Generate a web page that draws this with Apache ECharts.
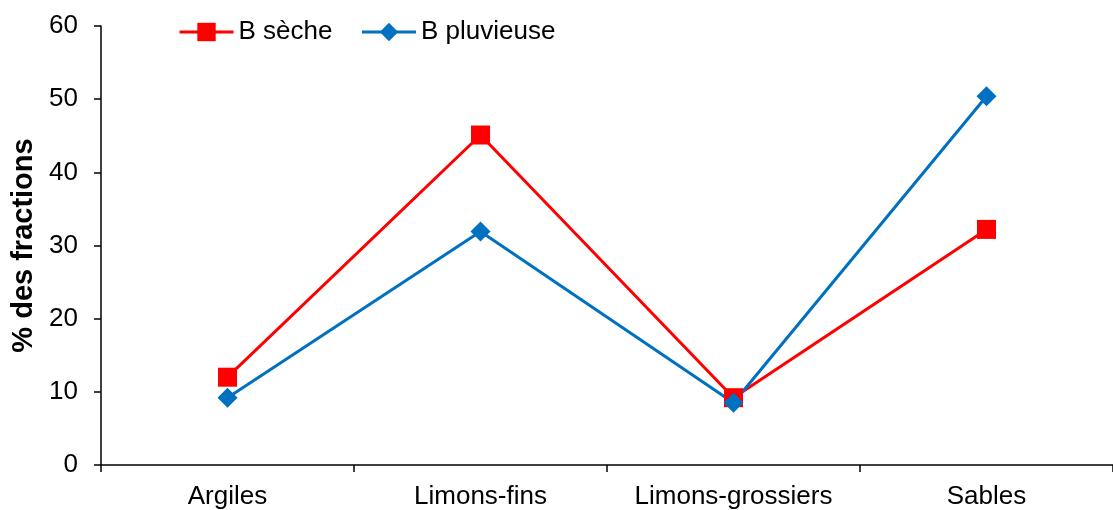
<!DOCTYPE html>
<html><head><meta charset="utf-8">
<script src="https://cdn.jsdelivr.net/npm/echarts@6/dist/echarts.min.js"></script>
<style>html,body{margin:0;padding:0;background:#fff}#c{width:1113px;height:510px}</style>
</head><body><div id="c"></div>
<script>
const categories = ['Argiles', 'Limons-fins', 'Limons-grossiers', 'Sables'];
const seche = [12.0, 45.1, 9.2, 32.2];
const pluvieuse = [9.2, 31.9, 8.5, 50.4];
const yTicks = { min: 0, max: 60, interval: 10 };

const chart = echarts.init(document.getElementById('c'), null, { renderer: 'canvas' });
const font = 'Liberation Sans, Arial, sans-serif';
chart.setOption({
  animation: false,
  backgroundColor: '#fff',
  textStyle: { fontFamily: font },
  legend: {
    left: 178, top: 19, padding: 0,
    itemWidth: 54, itemHeight: 23, itemGap: 28,
    lineStyle: { width: 3 },
    textStyle: { fontSize: 26, color: '#000', fontFamily: font, padding: [0, 0, 0, 0] },
    data: ['B sèche', 'B pluvieuse']
  },
  grid: { left: 101, top: 26, width: 1020, height: 442, containLabel: false },
  xAxis: {
    type: 'category', data: categories, boundaryGap: true,
    axisLine: { lineStyle: { color: '#000', width: 1.5 } },
    axisTick: { show: true, interval: 0, length: 7, lineStyle: { color: '#000', width: 1.5 } },
    axisLabel: { interval: 0, fontSize: 26, color: '#000', margin: 19, fontFamily: font }
  },
  yAxis: {
    type: 'value', min: yTicks.min, max: yTicks.max, interval: yTicks.interval,
    name: '% des fractions', nameLocation: 'middle', nameGap: 62, nameRotate: 90,
    nameTextStyle: { fontSize: 29, fontWeight: 'bold', color: '#000', fontFamily: font },
    axisLine: { show: true, lineStyle: { color: '#000', width: 1.5 } },
    axisTick: { show: true, length: 7, lineStyle: { color: '#000', width: 1.5 } },
    splitLine: { show: false },
    axisLabel: { fontSize: 26, color: '#000', margin: 23, fontFamily: font }
  },
  series: [
    {
      name: 'B sèche', type: 'line', data: seche,
      symbol: 'rect', symbolSize: 19,
      lineStyle: { color: '#ff0000', width: 3 },
      itemStyle: { color: '#ff0000' }
    },
    {
      name: 'B pluvieuse', type: 'line', data: pluvieuse,
      symbol: 'diamond', symbolSize: 20,
      lineStyle: { color: '#0070c0', width: 3 },
      itemStyle: { color: '#0070c0' }
    }
  ]
});
</script></body></html>
